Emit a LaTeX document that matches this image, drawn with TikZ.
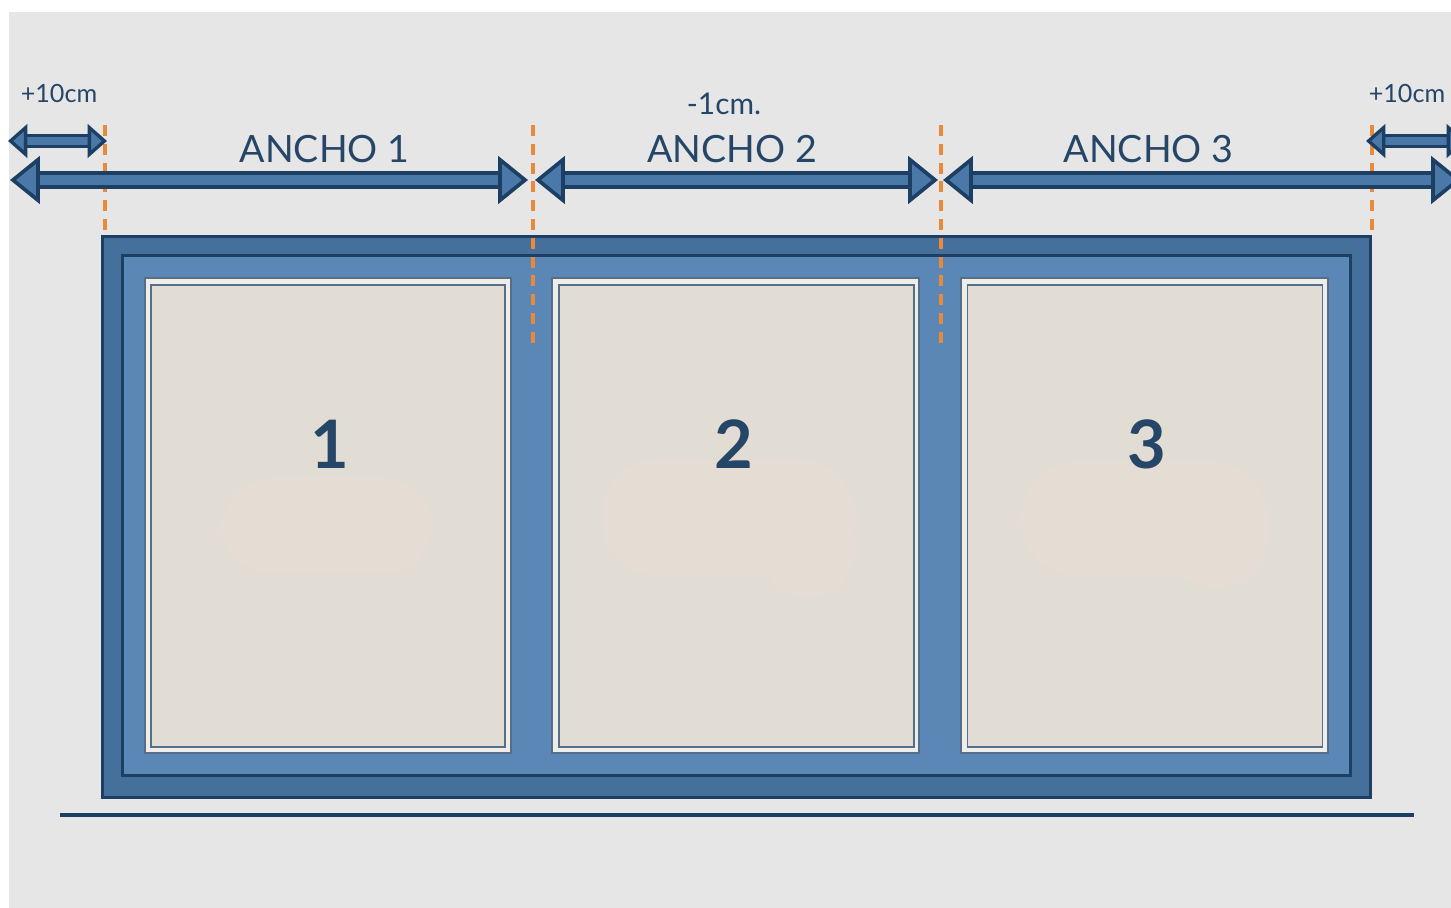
\documentclass[tikz,border=0pt]{standalone}
\usepackage{fontspec}
\setmainfont{Lato}
\usetikzlibrary{arrows.meta,positioning}
\definecolor{pagegrey}{HTML}{E6E6E6}
\definecolor{framedark}{HTML}{1C3F63}
\definecolor{frameouter}{HTML}{46709C}
\definecolor{frameinner}{HTML}{5A87B6}
\definecolor{arrowfill}{HTML}{4A78A8}
\definecolor{panelrim}{HTML}{EFEDE8}
\definecolor{panelfill}{HTML}{E2DDD4}
\definecolor{blotchfill}{HTML}{E5DCD3}
\definecolor{dimorange}{HTML}{E88A3C}
\definecolor{labelblue}{HTML}{264668}
\tikzset{
  framebox/.style={draw=framedark,line width=1.9pt,inner sep=0pt,outer sep=0pt},
  panelbox/.style={draw=#1,inner sep=0pt,outer sep=0pt},
  dimwide/.style={double=arrowfill,draw=framedark,line width=1.9pt,double distance=6pt,
    {Triangle[length=17pt,width=27pt,line width=2.1pt,color=framedark,fill=arrowfill]}-{Triangle[length=17pt,width=27pt,line width=2.1pt,color=framedark,fill=arrowfill]}},
  dimsmall/.style={double=arrowfill,draw=framedark,line width=1.6pt,double distance=4.4pt,
    {Triangle[length=11pt,width=19pt,line width=1.9pt,color=framedark,fill=arrowfill]}-{Triangle[length=11pt,width=19pt,line width=1.9pt,color=framedark,fill=arrowfill]}},
  guideline/.style={draw=dimorange,line width=2pt,dash pattern=on 6.3pt off 4.4pt},
  widthlabel/.style={text=labelblue,font=\fontsize{21.4}{24}\selectfont},
  marginlabel/.style={text=labelblue,font=\fontsize{14.3}{17}\selectfont},
  minuslabel/.style={text=labelblue,font=\fontsize{17}{19}\selectfont},
  panelnumber/.style={text=labelblue,font=\fontsize{38}{40}\selectfont\bfseries}
}
\begin{document}
\begin{tikzpicture}[x=0.02cm,y=-0.02cm]
  \useasboundingbox (0,0) rectangle (1451,908);
  \fill[white] (0,0) rectangle (1451,908);
  \fill[pagegrey] (9,12) rectangle (1451,908);

  \node[framebox,fill=frameouter,minimum width=25.36cm,minimum height=11.22cm] (outerframe) at (736.5,517) {};
  \node[framebox,fill=frameinner,minimum width=24.56cm,minimum height=10.4cm] (innerframe) at (736.5,515.5) {};

  \node[panelbox=framedark!75,line width=0.8pt,fill=panelrim,minimum width=7.32cm,minimum height=9.5cm] (rimone) at (328,515.5) {};
  \node[panelbox=framedark!75,line width=0.8pt,fill=panelrim,minimum width=7.34cm,minimum height=9.5cm] (rimtwo) at (735.5,515.5) {};
  \node[panelbox=framedark!75,line width=0.8pt,fill=panelrim,minimum width=7.34cm,minimum height=9.5cm] (rimthree) at (1144.5,515.5) {};
  \node[panelbox=framedark!75,line width=1pt,fill=panelfill,minimum width=7.08cm,minimum height=9.24cm] (panelone) at (328,516) {};
  \node[panelbox=framedark!75,line width=1pt,fill=panelfill,minimum width=7.1cm,minimum height=9.24cm] (paneltwo) at (736.5,516) {};
  \node[panelbox=framedark!75,line width=1pt,fill=panelfill,minimum width=7.1cm,minimum height=9.24cm] (panelthree) at (1145,516) {};

  \fill[blotchfill,rounded corners=1.1cm] (220,478) rectangle (434,574);
  \fill[blotchfill,rounded corners=1.1cm] (602,460) rectangle (855,576);
  \fill[blotchfill] (808,548) circle (48);
  \fill[blotchfill,rounded corners=1.1cm] (1022,462) rectangle (1267,576);
  \fill[blotchfill] (1215,535) circle (52);

  \node[panelnumber] (numone) at (330,444) {1};
  \node[panelnumber] (numtwo) at (734,444) {2};
  \node[panelnumber] (numthree) at (1147,444) {3};

  \coordinate (guideAtop) at (105,125);
  \coordinate (guideAend) at (105,234);
  \coordinate (guideBtop) at (533,125);
  \coordinate (guideBend) at (533,343);
  \coordinate (guideCtop) at (941,125);
  \coordinate (guideCend) at (941,343);
  \coordinate (guideDtop) at (1372,125);
  \coordinate (guideDend) at (1372,234);
  \draw[guideline] (guideAtop) -- (guideAend);
  \draw[guideline] (guideBtop) -- (guideBend);
  \draw[guideline] (guideCtop) -- (guideCend);
  \draw[guideline] (guideDtop) -- (guideDend);

  \coordinate (wideAl) at (10,180);
  \coordinate (wideAr) at (528,180);
  \coordinate (wideBl) at (535,180);
  \coordinate (wideBr) at (938,180);
  \coordinate (wideCl) at (943,180);
  \coordinate (wideCr) at (1461,180);
  \coordinate (smallAl) at (8,141);
  \coordinate (smallAr) at (107,141);
  \coordinate (smallBl) at (1366,141);
  \coordinate (smallBr) at (1466,141);
  \draw[dimwide] (wideAl) -- (wideAr);
  \draw[dimwide] (wideBl) -- (wideBr);
  \draw[dimwide] (wideCl) -- (wideCr);
  \draw[dimsmall] (smallAl) -- (smallAr);
  \draw[dimsmall] (smallBl) -- (smallBr);

  \node[widthlabel] (anchoone) at (324.5,149) {ANCHO 1};
  \node[widthlabel] (anchotwo) at (732,149) {ANCHO 2};
  \node[widthlabel] (anchothree) at (1148.5,149) {ANCHO 3};
  \node[marginlabel] (marginleft) at (59,93) {+10cm};
  \node[marginlabel] (marginright) at (1407,93) {+10cm};
  \node[minuslabel] (minusone) at (724,104) {-1cm.};

  \coordinate (groundl) at (60,815);
  \coordinate (groundr) at (1414,815);
  \draw[framedark,line width=2.2pt] (groundl) -- (groundr);
\end{tikzpicture}
\end{document}
